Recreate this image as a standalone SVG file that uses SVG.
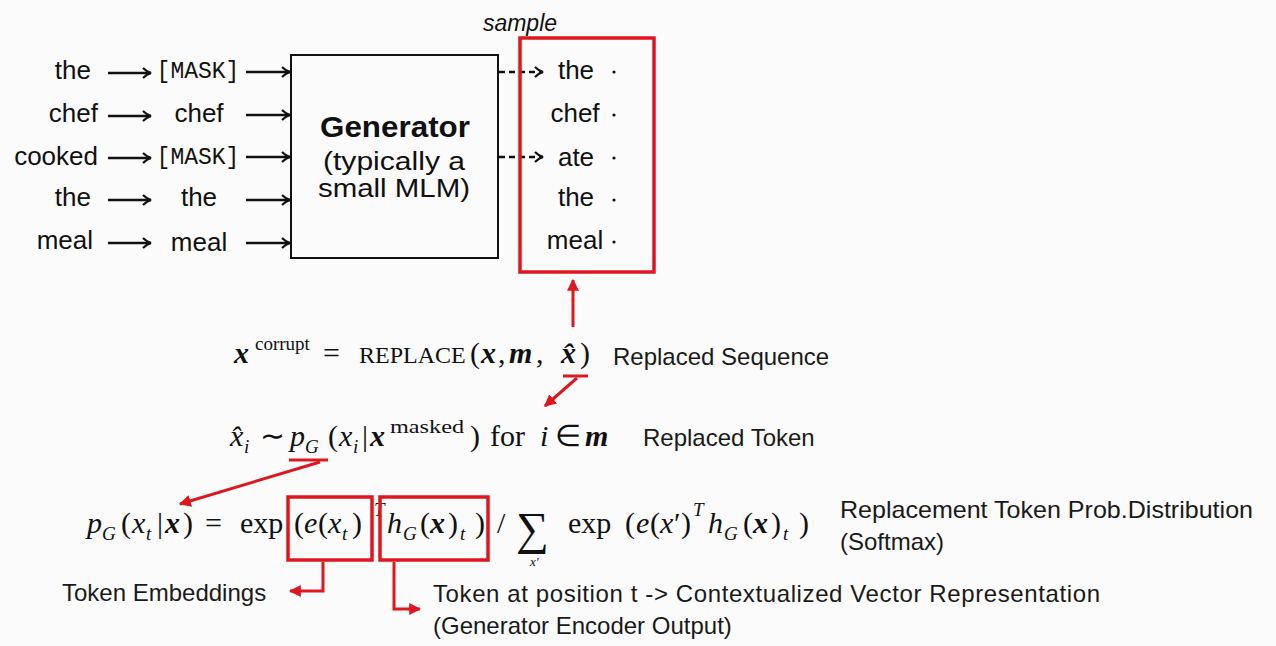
<svg xmlns="http://www.w3.org/2000/svg" width="1276" height="646" viewBox="0 0 1276 646">
<defs>
<style>
.w{font-family:"Liberation Sans",Arial,sans-serif;font-size:26px;fill:#111}
.mono{font-family:"Liberation Mono","Courier New",monospace;font-size:23px;fill:#111}
.lbl{font-family:"Liberation Sans",Arial,sans-serif;font-size:24px;fill:#1a1a1a}
.m{font-family:"Liberation Serif","Times New Roman",serif;font-size:30px;fill:#111}
.i{font-style:italic}
.b{font-weight:bold;font-style:italic}
.sup{font-size:19px}
.ar{stroke:#111;stroke-width:2.4;fill:none}
.red{stroke:#e0161e;stroke-width:3;fill:none}
.redbox{stroke:#e0161e;stroke-width:3.5;fill:none}
</style>
<marker id="ah" viewBox="0 0 12 12" refX="10" refY="6" markerWidth="12" markerHeight="12" markerUnits="userSpaceOnUse" orient="auto">
<path d="M2,1 Q6,5 10,6 Q6,7 2,11" fill="none" stroke="#111" stroke-width="2.2"/>
</marker>
<marker id="rh" viewBox="0 0 10 10" refX="9" refY="5" markerWidth="12" markerHeight="12" markerUnits="userSpaceOnUse" orient="auto">
<path d="M0,0 L10,5 L0,10 Z" fill="#e0161e"/>
</marker>
</defs>
<rect width="1276" height="646" fill="#fbfbfb"/>

<g id="connectors">
<g class="ar" marker-end="url(#ah)">
<line x1="108" y1="73" x2="151" y2="73"/>
<line x1="108" y1="116" x2="151" y2="116"/>
<line x1="108" y1="158" x2="151" y2="158"/>
<line x1="108" y1="200" x2="151" y2="200"/>
<line x1="108" y1="243" x2="151" y2="243"/>
<line x1="246" y1="72" x2="290" y2="72"/>
<line x1="246" y1="115" x2="290" y2="115"/>
<line x1="246" y1="157" x2="290" y2="157"/>
<line x1="246" y1="200" x2="290" y2="200"/>
<line x1="246" y1="243" x2="290" y2="243"/>
<line x1="499" y1="72" x2="543" y2="72" stroke-dasharray="6,4"/>
<line x1="499" y1="157" x2="543" y2="157" stroke-dasharray="6,4"/>
</g>
<g class="red" marker-end="url(#rh)">
<line x1="573" y1="327" x2="573" y2="280"/>
<line x1="577" y1="378" x2="545" y2="406"/>
<line x1="320" y1="462" x2="180" y2="504"/>
<polyline points="323,562 323,591 290,591"/>
<polyline points="394,562 394,609 420,609"/>
</g>
<line class="red" x1="563" y1="376" x2="588" y2="376"/>
<line class="red" x1="289" y1="460" x2="328" y2="460"/>
</g>

<g id="inputs">
<text class="w" x="91" y="79" text-anchor="end">the</text>
<text class="w" x="98" y="122" text-anchor="end">chef</text>
<text class="w" x="98" y="165" text-anchor="end">cooked</text>
<text class="w" x="91" y="206" text-anchor="end">the</text>
<text class="w" x="93" y="249" text-anchor="end">meal</text>
</g>
<g id="masked">
<text class="mono" x="198" y="78" text-anchor="middle">[MASK]</text>
<text class="w" x="199" y="122" text-anchor="middle">chef</text>
<text class="mono" x="198" y="164" text-anchor="middle">[MASK]</text>
<text class="w" x="199" y="206" text-anchor="middle">the</text>
<text class="w" x="199" y="251" text-anchor="middle">meal</text>
</g>

<g id="generator">
<rect x="291" y="55" width="207" height="203" fill="none" stroke="#111" stroke-width="2"/>
<text x="395" y="137" text-anchor="middle" style="font-family:'Liberation Sans',Arial,sans-serif;font-size:30px;font-weight:bold;fill:#111" textLength="150" lengthAdjust="spacingAndGlyphs">Generator</text>
<text class="w" x="394" y="170" text-anchor="middle" textLength="142" lengthAdjust="spacingAndGlyphs">(typically a</text>
<text class="w" x="394" y="197" text-anchor="middle" textLength="152" lengthAdjust="spacingAndGlyphs">small MLM)</text>
</g>

<g id="sample">
<text x="520" y="31" text-anchor="middle" style="font-family:'Liberation Sans',Arial,sans-serif;font-size:23px;font-style:italic;fill:#111">sample</text>
<rect class="redbox" x="520" y="38" width="134" height="234"/>
<text class="w" x="576" y="79" text-anchor="middle">the</text>
<text class="w" x="575" y="122" text-anchor="middle">chef</text>
<text class="w" x="576" y="166" text-anchor="middle">ate</text>
<text class="w" x="576" y="206" text-anchor="middle">the</text>
<text class="w" x="575" y="249" text-anchor="middle">meal</text>
<g fill="#111">
<circle cx="614" cy="72" r="1.6"/>
<circle cx="614" cy="115" r="1.6"/>
<circle cx="614" cy="158" r="1.6"/>
<circle cx="614" cy="200" r="1.6"/>
<circle cx="614" cy="242" r="1.6"/>
</g>
</g>

<g id="eq-replace">
<text class="m" y="363"><tspan class="b" x="234">x</tspan><tspan class="sup" x="255" y="350">corrupt</tspan><tspan x="323" y="363">=</tspan><tspan x="359" style="font-size:24px">REPLACE</tspan><tspan x="470">(</tspan><tspan class="b" x="481">x</tspan><tspan x="498">,</tspan><tspan class="b" x="509">m</tspan><tspan x="536">,</tspan><tspan class="b" x="561">x̂</tspan><tspan x="580">)</tspan></text>
<text class="lbl" x="613" y="365">Replaced Sequence</text>
</g>

<g id="eq-sample">
<text class="m" y="446"><tspan class="i" x="230">x̂</tspan><tspan class="i sup" x="244" y="453">i</tspan><tspan x="260" y="446">∼</tspan><tspan class="i" x="290">p</tspan><tspan class="i sup" x="305" y="453">G</tspan><tspan x="328" y="446">(</tspan><tspan class="i" x="339">x</tspan><tspan class="i sup" x="353" y="453">i</tspan><tspan x="362" y="446">|</tspan><tspan class="b" x="370">x</tspan><tspan class="sup" x="390" y="433" textLength="74" lengthAdjust="spacingAndGlyphs">masked</tspan><tspan x="470" y="446">)</tspan><tspan x="490">for</tspan><tspan class="i" x="540">i</tspan><tspan x="555">∈</tspan><tspan class="b" x="585">m</tspan></text>
<text class="lbl" x="643" y="446">Replaced Token</text>
</g>

<g id="eq-softmax">
<text class="m" y="533"><tspan class="i" x="87">p</tspan><tspan class="i sup" x="102" y="540">G</tspan><tspan x="121" y="533">(</tspan><tspan class="i" x="132">x</tspan><tspan class="i sup" x="146" y="540">t</tspan><tspan x="157" y="533">|</tspan><tspan class="b" x="165">x</tspan><tspan x="183">)</tspan><tspan x="205">=</tspan><tspan x="240">exp</tspan><tspan x="294">(</tspan><tspan class="i" x="304">e</tspan><tspan x="318">(</tspan><tspan class="i" x="328">x</tspan><tspan class="i sup" x="342" y="540">t</tspan><tspan x="352" y="533">)</tspan><tspan class="i sup" x="374" y="516">T</tspan><tspan class="i" x="387" y="533">h</tspan><tspan class="i sup" x="403" y="540">G</tspan><tspan x="420" y="533">(</tspan><tspan class="b" x="430">x</tspan><tspan x="448">)</tspan><tspan class="i sup" x="460" y="540">t</tspan><tspan x="475" y="533">)</tspan><tspan x="497">/</tspan><tspan x="516" y="544" style="font-size:46px">∑</tspan><tspan x="568" y="533">exp</tspan><tspan x="625">(</tspan><tspan class="i" x="636">e</tspan><tspan x="650">(</tspan><tspan class="i" x="660">x</tspan><tspan x="674">′</tspan><tspan x="681">)</tspan><tspan class="i sup" x="693" y="516">T</tspan><tspan class="i" x="708" y="533">h</tspan><tspan class="i sup" x="724" y="540">G</tspan><tspan x="743" y="533">(</tspan><tspan class="b" x="753">x</tspan><tspan x="771">)</tspan><tspan class="i sup" x="783" y="540">t</tspan><tspan x="799" y="533">)</tspan></text>
<text class="m i" x="530" y="566" style="font-size:13px">x′</text>
<rect class="redbox" x="288" y="497" width="84" height="63"/>
<rect class="redbox" x="380" y="497" width="108" height="63"/>
<text class="lbl" x="840" y="518" textLength="413" lengthAdjust="spacingAndGlyphs">Replacement Token Prob.Distribution</text>
<text class="lbl" x="840" y="550">(Softmax)</text>
</g>

<g id="labels">
<text class="lbl" x="62" y="601">Token Embeddings</text>
<text class="lbl" x="433" y="602" textLength="667" lengthAdjust="spacing">Token at position t  -&gt; Contextualized Vector Representation</text>
<text class="lbl" x="433" y="634">(Generator Encoder Output)</text>
</g>
</svg>
